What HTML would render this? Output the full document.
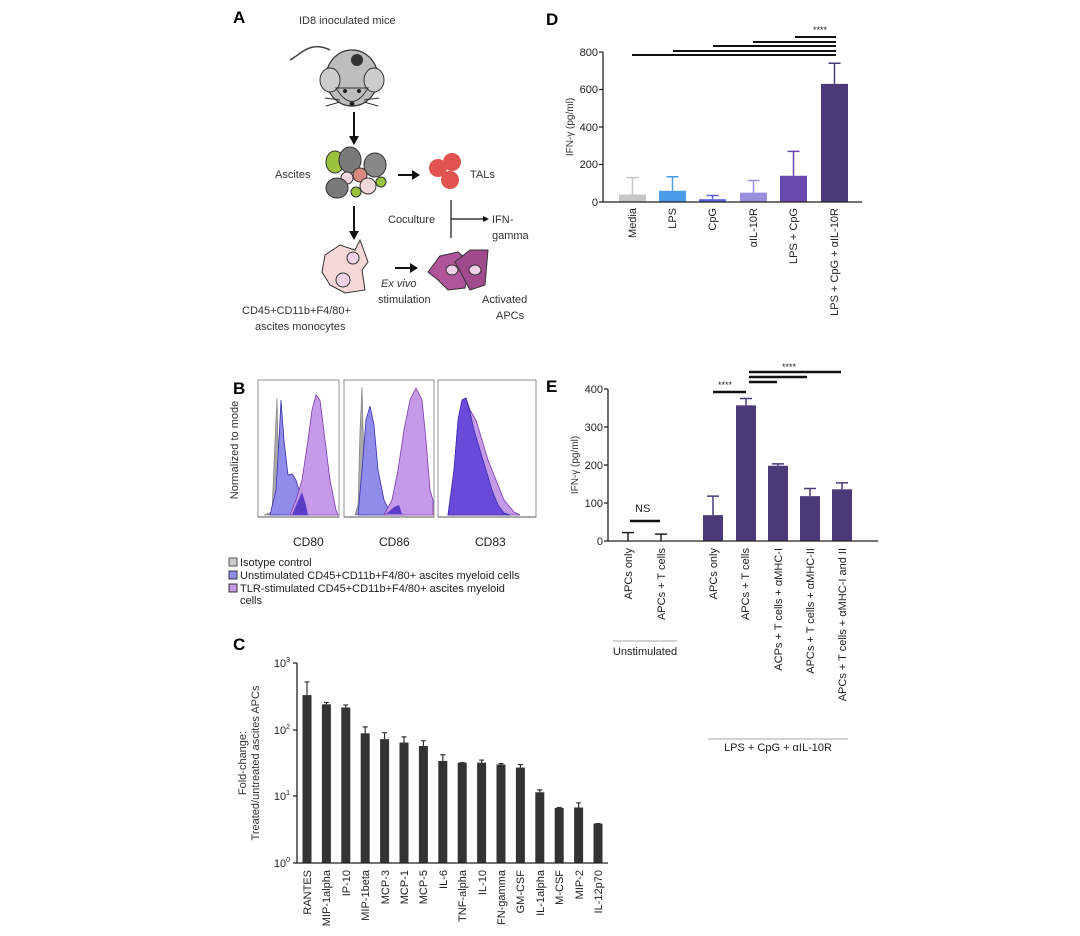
<!DOCTYPE html>
<html><head><meta charset="utf-8"><style>
html,body{margin:0;padding:0;background:#fff;}
svg{display:block;font-family:"Liberation Sans",sans-serif;}
</style></head><body>
<svg id="s" width="1080" height="936" viewBox="0 0 1080 936" xmlns="http://www.w3.org/2000/svg">
<rect width="1080" height="936" fill="#fff"/>
<!-- Panel A -->
<text x="233" y="23" font-size="17" font-weight="bold">A</text>
<text x="299" y="24" font-size="11" fill="#333">ID8 inoculated mice</text>
<path d="M330,50 C310,40 300,55 290,60" stroke="#444" fill="none" stroke-width="1.5"/>
<ellipse cx="352" cy="78" rx="26" ry="28" fill="#bdbdbd" stroke="#333" stroke-width="1.2"/>
<ellipse cx="330" cy="80" rx="10" ry="12" fill="#ccc" stroke="#333"/>
<ellipse cx="374" cy="80" rx="10" ry="12" fill="#ccc" stroke="#333"/>
<path d="M336,88 Q352,115 368,88 Z" fill="#bdbdbd" stroke="#333"/>
<circle cx="345" cy="91" r="2" fill="#222"/><circle cx="359" cy="91" r="2" fill="#222"/>
<circle cx="352" cy="104" r="2.5" fill="#222"/>
<circle cx="357" cy="60" r="6" fill="#333"/>
<path d="M340,100 L325,98 M340,102 L326,106 M364,100 L379,98 M364,102 L378,106" stroke="#333"/>
<path d="M354,112 V140" stroke="#111" stroke-width="2"/><path d="M349,136 L354,145 L359,136 Z" fill="#111"/>
<text x="275" y="178" font-size="11" fill="#333">Ascites</text>
<g stroke="#333" stroke-width="1">
<ellipse cx="335" cy="162" rx="9" ry="11" fill="#9bc23c"/>
<ellipse cx="350" cy="160" rx="11" ry="13" fill="#7a7a7a"/>
<ellipse cx="375" cy="165" rx="11" ry="12" fill="#888"/>
<circle cx="360" cy="175" r="7" fill="#d88a80"/>
<circle cx="347" cy="178" r="6" fill="#f3d6e0"/>
<ellipse cx="337" cy="188" rx="11" ry="10" fill="#7a7a7a"/>
<circle cx="368" cy="186" r="8" fill="#f2d8d8"/>
<circle cx="381" cy="182" r="5" fill="#9bc23c"/>
<circle cx="356" cy="192" r="5" fill="#9bc23c"/>
</g>
<path d="M398,175 H414" stroke="#111" stroke-width="2"/><path d="M412,170 L420,175 L412,180 Z" fill="#111"/>
<circle cx="438" cy="168" r="9" fill="#e0534f"/><circle cx="452" cy="162" r="9" fill="#e0534f"/><circle cx="450" cy="180" r="9" fill="#e0534f"/>
<text x="470" y="178" font-size="11" fill="#333">TALs</text>
<path d="M354,206 V235" stroke="#111" stroke-width="2"/><path d="M349,231 L354,240 L359,231 Z" fill="#111"/>
<text x="388" y="223" font-size="11" fill="#333">Coculture</text>
<path d="M451,200 V238 M451,219 H484" stroke="#111" stroke-width="1.2"/><path d="M483,216 L489,219 L483,222 Z" fill="#111"/>
<text x="492" y="223" font-size="11" fill="#333">IFN-</text>
<text x="492" y="239" font-size="11" fill="#333">gamma</text>
<g stroke="#333" fill="#f6d9d6">
<path d="M325,255 L340,245 L355,250 L360,240 L368,262 L362,270 L365,290 L345,293 L330,285 L322,272 Z"/>
<circle cx="353" cy="258" r="6" fill="#f2d2ea"/><circle cx="343" cy="280" r="7" fill="#f2d2ea"/>
</g>
<path d="M395,268 H412" stroke="#111" stroke-width="2"/><path d="M410,263 L418,268 L410,273 Z" fill="#111"/>
<text x="381" y="287" font-size="11" font-style="italic" fill="#333">Ex vivo</text>
<text x="378" y="303" font-size="11" fill="#333">stimulation</text>
<g stroke="#333">
<path d="M428,272 L440,256 L458,252 L470,262 L465,288 L448,290 L438,280 Z" fill="#b0559a"/>
<path d="M455,262 L470,250 L488,250 L485,285 L470,290 Z" fill="#a04a8c"/>
<ellipse cx="452" cy="270" rx="6" ry="5" fill="#f0d0e8"/><ellipse cx="475" cy="270" rx="6" ry="5" fill="#f0d0e8"/>
</g>
<text x="482" y="303" font-size="11" fill="#333">Activated</text>
<text x="496" y="319" font-size="11" fill="#333">APCs</text>
<text x="242" y="314" font-size="11" fill="#333">CD45+CD11b+F4/80+</text>
<text x="255" y="330" font-size="11" fill="#333">ascites monocytes</text>

<!-- Panel B -->
<text x="233" y="394" font-size="17" font-weight="bold">B</text>
<text transform="translate(238,450) rotate(-90)" font-size="11" text-anchor="middle" fill="#333">Normalized to mode</text>
<g stroke="#777" fill="none" stroke-width="0.8">
<rect x="258" y="380" width="81" height="137"/>
<rect x="344" y="380" width="90" height="137"/>
<rect x="438" y="380" width="98" height="137"/>
</g>
<path d="M264,515 L272,512 L275,440 L277,398 L279,480 L282,515 Z" fill="#aaa" stroke="#777" stroke-width="0.6"/>
<path d="M270,515 L276,490 L279,440 L281,400 L284,440 L288,475 L292,474 L296,480 L302,500 L308,515 Z" fill="#8f8cea" stroke="#3a2fb0" stroke-width="0.8"/>
<path d="M290,515 L296,500 L302,480 L308,440 L312,410 L316,395 L320,400 L325,440 L330,480 L336,510 L338,515 Z" fill="#c59ae8" stroke="#7a3ab0" stroke-width="0.8"/>
<path d="M292,515 L297,503 L302,492 L306,505 L308,515 Z" fill="#5a3ec8"/>
<path d="M355,515 L358,505 L360,430 L362,387 L364,460 L366,515 Z" fill="#aaa" stroke="#777" stroke-width="0.6"/>
<path d="M358,515 L362,470 L366,420 L370,406 L374,425 L378,470 L384,500 L390,512 L398,508 L405,515 Z" fill="#8f8cea" stroke="#3a2fb0" stroke-width="0.8"/>
<path d="M384,515 L392,500 L398,470 L404,430 L410,400 L416,388 L422,400 L426,440 L430,490 L433,500 L433,515 Z" fill="#c59ae8" stroke="#7a3ab0" stroke-width="0.8"/>
<path d="M386,514 L394,507 L399,505 L402,514 Z" fill="#5a3ec8"/>
<path d="M448,515 L454,470 L458,420 L462,400 L466,398 L470,410 L476,420 L482,440 L488,460 L496,480 L504,500 L514,512 L520,515 Z" fill="#c59ae8" stroke="#7a3ab0" stroke-width="0.8"/>
<path d="M448,515 L454,470 L458,420 L462,400 L466,398 L470,412 L474,430 L480,450 L486,470 L492,490 L498,505 L504,513 L510,515 Z" fill="#6a4ad8" stroke="#3a2fb0" stroke-width="0.8"/>
<g stroke="#444" stroke-width="0.8">
<path d="M258,517 H339 M344,517 H434 M438,517 H536"/>
</g>
<text x="293" y="546" font-size="12" fill="#222">CD80</text>
<text x="379" y="546" font-size="12" fill="#222">CD86</text>
<text x="475" y="546" font-size="12" fill="#222">CD83</text>
<g font-size="11" fill="#222">
<rect x="229" y="558" width="8" height="8" fill="#ccc" stroke="#555"/><text x="240" y="566">Isotype control</text>
<rect x="229" y="571" width="8" height="8" fill="#8f8cea" stroke="#333"/><text x="240" y="579">Unstimulated CD45+CD11b+F4/80+ ascites myeloid cells</text>
<rect x="229" y="584" width="8" height="8" fill="#c59ae8" stroke="#333"/><text x="240" y="592">TLR-stimulated CD45+CD11b+F4/80+ ascites myeloid</text>
<text x="240" y="604">cells</text>
</g>

<!-- Panel C -->
<text x="233" y="650" font-size="17" font-weight="bold">C</text>
<text transform="translate(246,763) rotate(-90)" font-size="11" text-anchor="middle" fill="#333">Fold-change:</text>
<text transform="translate(259,763) rotate(-90)" font-size="11" text-anchor="middle" fill="#333">Treated/untreated ascites APCs</text>
<g font-size="11" fill="#222" text-anchor="end">
<text x="290" y="667">10<tspan font-size="7" dy="-5">3</tspan></text>
<text x="290" y="734">10<tspan font-size="7" dy="-5">2</tspan></text>
<text x="290" y="800">10<tspan font-size="7" dy="-5">1</tspan></text>
<text x="290" y="867">10<tspan font-size="7" dy="-5">0</tspan></text>
</g>
<g id="cbars"></g>
<g font-size="11" fill="#222" text-anchor="end">
<text transform="translate(311,870) rotate(-90)">RANTES</text>
<text transform="translate(330,870) rotate(-90)">MIP-1alpha</text>
<text transform="translate(350,870) rotate(-90)">IP-10</text>
<text transform="translate(369,870) rotate(-90)">MIP-1beta</text>
<text transform="translate(389,870) rotate(-90)">MCP-3</text>
<text transform="translate(408,870) rotate(-90)">MCP-1</text>
<text transform="translate(427,870) rotate(-90)">MCP-5</text>
<text transform="translate(447,870) rotate(-90)">IL-6</text>
<text transform="translate(466,870) rotate(-90)">TNF-alpha</text>
<text transform="translate(486,870) rotate(-90)">IL-10</text>
<text transform="translate(505,870) rotate(-90)">FN-gamma</text>
<text transform="translate(524,870) rotate(-90)">GM-CSF</text>
<text transform="translate(544,870) rotate(-90)">IL-1alpha</text>
<text transform="translate(563,870) rotate(-90)">M-CSF</text>
<text transform="translate(583,870) rotate(-90)">MIP-2</text>
<text transform="translate(602,870) rotate(-90)">IL-12p70</text>
</g>

<!-- Panel D -->
<text x="546" y="25" font-size="17" font-weight="bold">D</text>
<text transform="translate(573,127) rotate(-90)" font-size="10" text-anchor="middle" fill="#333">IFN-γ (pg/ml)</text>
<g font-size="11" fill="#222" text-anchor="end">
<text x="598" y="56">800</text><text x="598" y="93">600</text><text x="598" y="131">400</text><text x="598" y="168">200</text><text x="598" y="206">0</text>
</g>
<g id="dbars"></g>
<text x="813" y="33" font-size="9" fill="#222">****</text>
<g font-size="11" fill="#222" text-anchor="end">
<text transform="translate(636,208) rotate(-90)">Media</text>
<text transform="translate(676,208) rotate(-90)">LPS</text>
<text transform="translate(716,208) rotate(-90)">CpG</text>
<text transform="translate(757,208) rotate(-90)">αIL-10R</text>
<text transform="translate(797,208) rotate(-90)">LPS + CpG</text>
<text transform="translate(838,208) rotate(-90)">LPS + CpG + αIL-10R</text>
</g>

<!-- Panel E -->
<text x="546" y="392" font-size="17" font-weight="bold">E</text>
<text transform="translate(578,465) rotate(-90)" font-size="10" text-anchor="middle" fill="#333">IFN-γ (pg/ml)</text>
<g font-size="11" fill="#222" text-anchor="end">
<text x="603" y="393">400</text><text x="603" y="431">300</text><text x="603" y="469">200</text><text x="603" y="507">100</text><text x="603" y="545">0</text>
</g>
<g id="ebars"></g>
<text x="635" y="512" font-size="11" fill="#222">NS</text>
<text x="718" y="388" font-size="9" fill="#222">****</text>
<text x="782" y="370" font-size="9" fill="#222">****</text>
<g font-size="11" fill="#222" text-anchor="end">
<text transform="translate(632,548) rotate(-90)">APCs only</text>
<text transform="translate(665,548) rotate(-90)">APCs + T cells</text>
<text transform="translate(717,548) rotate(-90)">APCs only</text>
<text transform="translate(749,548) rotate(-90)">APCs + T cells</text>
<text transform="translate(782,548) rotate(-90)">ACPs + T cells + αMHC-I</text>
<text transform="translate(814,548) rotate(-90)">APCs + T cells + αMHC-II</text>
<text transform="translate(846,548) rotate(-90)">APCs + T cells + αMHC-I and II</text>
</g>
<path d="M613,641 H677 M708,739 H848" stroke="#888" stroke-width="0.8"/>
<text x="645" y="655" font-size="11" fill="#222" text-anchor="middle">Unstimulated</text>
<text x="778" y="751" font-size="11" fill="#222" text-anchor="middle">LPS + CpG + αIL-10R</text>
</svg>
<script>
var NS="http://www.w3.org/2000/svg";
function el(p,t,a){var e=document.createElementNS(NS,t);for(var k in a)e.setAttribute(k,a[k]);p.appendChild(e);return e;}
var cg=document.getElementById('cbars');
var cv=[[330,520],[240,255],[215,235],[88,110],[72,90],[64,78],[57,68],[34,42],[32,32],[32,35],[30,31],[27,30],[11.5,12.5],[6.7,6.8],[6.8,8],[3.9,3.9]];
var n=cv.length, x0=307, sp=19.4;
for(var i=0;i<n;i++){
 var cx=x0+i*sp, y=863-66.67*Math.log10(cv[i][0]), ye=863-66.67*Math.log10(cv[i][1]);
 el(cg,'rect',{x:cx-4.5,y:y,width:9,height:863-y,fill:'#333'});
 el(cg,'path',{d:'M'+cx+','+y+'V'+ye+'M'+(cx-2.5)+','+ye+'H'+(cx+2.5),stroke:'#333','stroke-width':1.2});
}
el(cg,'path',{d:'M297,663V863H'+(x0+sp*(n-1)+10)+'M293,663H297M293,730H297M293,796H297M293,863H297',stroke:'#222','stroke-width':1.3,fill:'none'});
var dg=document.getElementById('dbars');
var dv=[[40,130,'#c6c6c6'],[60,135,'#4a9be8'],[15,35,'#5a5ed8'],[50,115,'#9a8ee0'],[140,270,'#6a4ab0'],[630,740,'#4a3a78']];
var dx0=[619,659,699,740,780,821];
dv.forEach(function(d,i){var s=150/800,y=202-d[0]*s,ye=202-d[1]*s,cx=dx0[i]+13.5;
 el(dg,'rect',{x:dx0[i],y:y,width:27,height:202-y,fill:d[2]});
 el(dg,'path',{d:'M'+cx+','+y+'V'+ye+'M'+(cx-6)+','+ye+'H'+(cx+6),stroke:d[2],'stroke-width':1.5});
});
el(dg,'path',{d:'M603,52V202H862M599,52H603M599,89.5H603M599,127H603M599,164.5H603M599,202H603',stroke:'#222','stroke-width':1.3,fill:'none'});
[[632,55],[673,51],[713,46],[753,42],[795,37]].forEach(function(l){el(dg,'path',{d:'M'+l[0]+','+l[1]+'H836',stroke:'#111','stroke-width':2});});
var eg=document.getElementById('ebars');
var s=152/400;
[[628,22],[661,18]].forEach(function(u){var ye=541-u[1]*s;el(eg,'path',{d:'M'+u[0]+',541V'+ye+'M'+(u[0]-6)+','+ye+'H'+(u[0]+6),stroke:'#222','stroke-width':1.5});});
var ev=[[703,68,118],[736,357,375],[768,198,203],[800,118,138],[832,136,153]];
ev.forEach(function(d){var y=541-d[1]*s,ye=541-d[2]*s,cx=d[0]+10;
 el(eg,'rect',{x:d[0],y:y,width:20,height:541-y,fill:'#4a3a78'});
 el(eg,'path',{d:'M'+cx+','+y+'V'+ye+'M'+(cx-6)+','+ye+'H'+(cx+6),stroke:'#4a3a78','stroke-width':1.5});
});
el(eg,'path',{d:'M608,389V541H878M604,389H608M604,427H608M604,465H608M604,503H608M604,541H608',stroke:'#222','stroke-width':1.3,fill:'none'});
el(eg,'path',{d:'M630,521H660M713,392H746M749,372H841M749,377H807M749,382H777',stroke:'#111','stroke-width':2.5});
</script>
</body></html>
